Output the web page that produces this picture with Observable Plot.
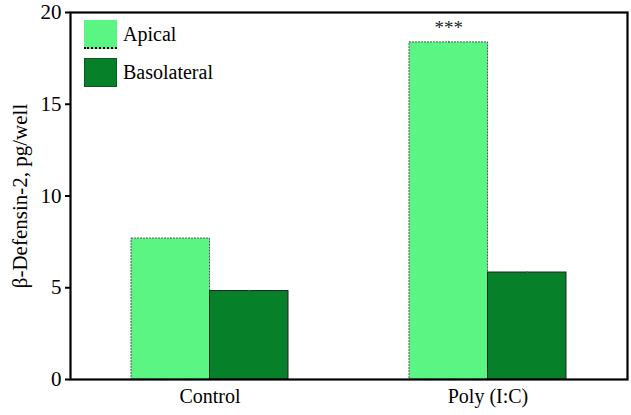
<!DOCTYPE html>
<html><head><meta charset="utf-8">
<script src="https://cdn.jsdelivr.net/npm/d3@7"></script>
<script src="https://cdn.jsdelivr.net/npm/@observablehq/plot@0.6"></script>
<style>
body{margin:0;background:#fff;}
#wrap{position:relative;width:631px;height:415px;font-family:"Liberation Serif",serif;}
#legend{position:absolute;left:84px;top:20px;font-size:20px;color:#000;font-family:"Liberation Serif",serif;}
.item{display:flex;align-items:center;height:29px;margin-bottom:9px;}
.sw{width:33px;height:29px;margin-right:6px;box-sizing:border-box;}
svg text{font-family:"Liberation Serif",serif !important;}
</style></head>
<body><div id="wrap"><div id="chart"></div><div id="legend"></div></div>
<script>
const groups = ["Control", "Poly (I:C)"];
const series = ["Apical", "Basolateral"];
const apical = [7.68, 18.37];
const basolateral = [4.82, 5.83];
const apicalErr = [0.03, 0.06];
const basolateralErr = [0.04, 0.05];
const yTicks = [0, 5, 10, 15, 20];
const colors = ["#5af582", "#07802a"];
const annotations = [{group: "Poly (I:C)", series: "Apical", label: "***"}];

const rows = [];
groups.forEach((g, i) => {
  rows.push({group: g, series: "Apical", value: apical[i], err: apicalErr[i]});
  rows.push({group: g, series: "Basolateral", value: basolateral[i], err: basolateralErr[i]});
});
const A = rows.filter(d => d.series === "Apical");
const B = rows.filter(d => d.series === "Basolateral");
const half = 78.5;
const FF = "Liberation Serif, serif";

const chart = Plot.plot({
  width: 631, height: 415,
  marginLeft: 70, marginRight: 4, marginTop: 12, marginBottom: 36,
  style: {fontFamily: FF, fontSize: "20px", color: "#000", background: "#fff"},
  x: {domain: groups, paddingInner: 0.435, paddingOuter: 0.219},
  y: {domain: [0, 20]},
  marks: [
    Plot.barY(A, {x: "group", y: "value", fill: colors[0], stroke: "#555", strokeWidth: 1, strokeDasharray: "2,1", insetRight: half}),
    Plot.barY(B, {x: "group", y: "value", fill: colors[1], stroke: "#222", strokeWidth: 1, insetLeft: half}),
    Plot.ruleX(A, {x: "group", y1: d => d.value - d.err, y2: d => d.value + d.err, dx: -half/2, stroke: "#666"}),
    Plot.ruleX(B, {x: "group", y1: d => d.value - d.err, y2: d => d.value + d.err, dx: half/2, stroke: "#666"}),
    Plot.text(annotations, {x: "group", y: d => A.find(r => r.group === d.group).value, text: "label", dx: -half/2, dy: -15, fontSize: 19, fill: "#222", fontFamily: FF}),
    Plot.axisX({tickSize: 0, tickPadding: 9, label: null, fontSize: 20, fontFamily: FF}),
    Plot.axisY({ticks: yTicks, tickSize: 5, tickPadding: 4, strokeWidth: 2, fontSize: 21, fontFamily: FF, label: null}),
    Plot.text(["β-Defensin-2, pg/well"], {frameAnchor: "left", dx: -50, rotate: -90, textAnchor: "middle", fontSize: 21, fontFamily: FF, fill: "#000"}),
    Plot.frame({stroke: "#000", strokeWidth: 2.2})
  ]
});
document.getElementById("chart").appendChild(chart);

const legend = document.getElementById("legend");
series.forEach((s, i) => {
  const it = document.createElement("div"); it.className = "item";
  const sw = document.createElement("div"); sw.className = "sw";
  sw.style.background = colors[i];
  if (i === 0) sw.style.borderBottom = "2px dotted #000"; else sw.style.border = "1px solid #0a5a20";
  const t = document.createElement("span"); t.textContent = s;
  it.appendChild(sw); it.appendChild(t); legend.appendChild(it);
});
</script></body></html>
